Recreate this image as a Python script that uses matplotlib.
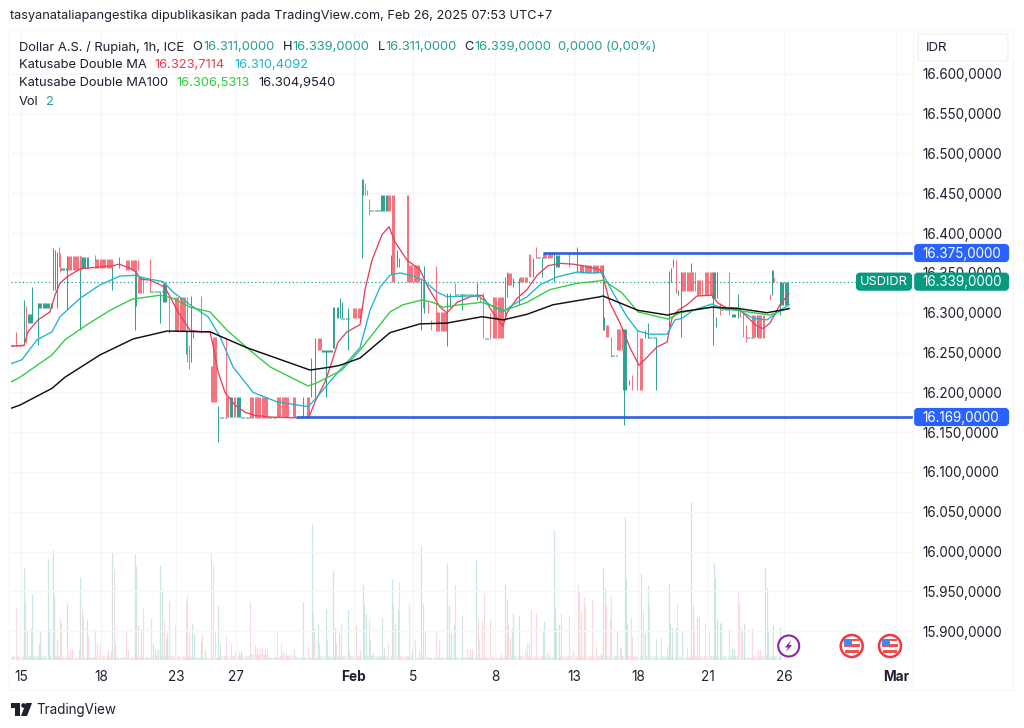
import numpy as np
import matplotlib
matplotlib.use("Agg")
import matplotlib.pyplot as plt
from matplotlib.patches import Circle, FancyBboxPatch, Polygon, Rectangle
from matplotlib.ticker import FuncFormatter

plt.rcParams["font.family"] = ["Inter", "DejaVu Sans"]

# x is the bar position along the chart (the time axis skips closed market hours)
date_pos = [21, 101, 176, 236, 354, 413, 495, 574, 638, 708, 784, 896]
date_labels = ["15", "18", "23", "27", "Feb", "5", "8", "13", "18", "21", "26", "Mar"]
price_ticks = [16600, 16550, 16500, 16450, 16400, 16350, 16300, 16250, 16200, 16150, 16100, 16050, 16000, 15950, 15900]

last_price = 16339
resistance = 16375
support = 16169

# runs of candles: start, stop, high, low
up_start = [24, 28, 32, 38, 38, 53, 55, 57, 61, 67, 80, 82, 112, 119, 135, 136, 150, 160, 163, 186, 191, 193, 193, 218, 220, 230, 237, 241, 268, 303, 311, 315, 322, 326, 333, 337, 340, 342, 341, 348, 362, 363, 370, 381, 391, 397, 399, 421, 424, 447, 450, 455, 462, 477, 485, 505, 507, 513, 519, 533, 537, 542, 554, 556, 577, 603, 604, 611, 623, 624, 629, 645, 648, 648, 656, 656, 669, 671, 673, 678, 681, 691, 712, 713, 716, 720, 732, 738, 746, 757, 772, 773, 775, 780, 780]
up_stop = [24, 32, 32, 38, 52, 53, 55, 57, 67, 67, 80, 88, 112, 119, 135, 136, 163, 160, 167, 186, 191, 193, 212, 218, 226, 233, 241, 250, 277, 303, 311, 315, 333, 326, 335, 339, 340, 342, 350, 348, 362, 363, 381, 387, 391, 397, 399, 421, 424, 447, 450, 478, 462, 477, 490, 505, 507, 513, 519, 533, 545, 542, 554, 560, 577, 603, 604, 617, 627, 624, 629, 645, 648, 655, 656, 666, 669, 671, 673, 678, 681, 691, 717, 713, 716, 730, 736, 738, 755, 757, 772, 773, 780, 789, 780]
up_high = [16316, 16298, 16332, 16312, 16312, 16381, 16379, 16376, 16356, 16371, 16371, 16370, 16357, 16370, 16366, 16354, 16327, 16326, 16337, 16278, 16321, 16277, 16275, 16183, 16169, 16194, 16194, 16169, 16169, 16194, 16243, 16268, 16253, 16253, 16307, 16307, 16318, 16313, 16293, 16306, 16468, 16468, 16429, 16448, 16372, 16379, 16369, 16344, 16359, 16325, 16325, 16324, 16324, 16337, 16268, 16345, 16351, 16344, 16344, 16369, 16370, 16369, 16375, 16372, 16383, 16360, 16295, 16247, 16280, 16280, 16216, 16278, 16287, 16270, 16270, 16270, 16352, 16356, 16367, 16329, 16351, 16362, 16351, 16320, 16295, 16305, 16298, 16324, 16270, 16297, 16354, 16354, 16339, 16339, 16339]
up_low = [16259, 16287, 16287, 16259, 16306, 16329, 16329, 16306, 16354, 16305, 16278, 16356, 16329, 16356, 16278, 16308, 16326, 16287, 16313, 16248, 16238, 16268, 16274, 16138, 16168, 16169, 16169, 16168, 16168, 16169, 16194, 16194, 16251, 16194, 16256, 16293, 16293, 16293, 16292, 16253, 16369, 16448, 16428, 16428, 16349, 16357, 16357, 16278, 16300, 16258, 16307, 16322, 16303, 16316, 16267, 16291, 16320, 16332, 16310, 16345, 16369, 16345, 16339, 16357, 16350, 16278, 16278, 16246, 16203, 16159, 16209, 16268, 16268, 16268, 16203, 16269, 16278, 16339, 16357, 16322, 16270, 16329, 16318, 16259, 16282, 16304, 16295, 16293, 16268, 16270, 16322, 16339, 16338, 16310, 16297]

down_start = [11, 16, 26, 59, 60, 68, 95, 95, 126, 138, 150, 169, 175, 187, 189, 201, 211, 213, 226, 227, 234, 250, 277, 293, 307, 318, 353, 365, 367, 369, 388, 392, 407, 409, 423, 428, 431, 436, 436, 455, 480, 483, 490, 493, 508, 520, 529, 536, 543, 569, 580, 606, 611, 617, 632, 637, 640, 676, 682, 697, 705, 720, 729, 740, 743, 746, 752, 758, 770, 774]
down_stop = [23, 16, 26, 59, 61, 81, 95, 113, 138, 143, 150, 169, 187, 187, 189, 201, 213, 217, 226, 229, 236, 268, 289, 296, 310, 322, 362, 365, 367, 369, 391, 395, 409, 420, 423, 428, 431, 436, 447, 455, 480, 483, 490, 504, 512, 528, 531, 536, 553, 569, 602, 609, 611, 623, 632, 637, 643, 676, 695, 702, 712, 720, 729, 740, 743, 746, 756, 764, 770, 774]
down_high = [16259, 16276, 16308, 16383, 16375, 16371, 16372, 16367, 16366, 16345, 16367, 16322, 16320, 16310, 16259, 16321, 16233, 16270, 16270, 16194, 16194, 16194, 16194, 16194, 16194, 16268, 16306, 16463, 16454, 16443, 16448, 16448, 16448, 16360, 16341, 16313, 16291, 16359, 16301, 16337, 16322, 16325, 16300, 16320, 16350, 16345, 16374, 16383, 16375, 16375, 16360, 16285, 16270, 16280, 16222, 16278, 16268, 16366, 16351, 16341, 16351, 16312, 16351, 16307, 16301, 16285, 16297, 16297, 16324, 16344]
down_low = [16258, 16258, 16262, 16357, 16351, 16354, 16356, 16356, 16354, 16325, 16326, 16275, 16277, 16238, 16229, 16275, 16188, 16188, 16169, 16169, 16169, 16168, 16169, 16169, 16169, 16253, 16293, 16448, 16448, 16423, 16428, 16339, 16339, 16339, 16306, 16300, 16278, 16278, 16277, 16322, 16313, 16268, 16268, 16268, 16335, 16339, 16345, 16369, 16369, 16357, 16350, 16270, 16244, 16253, 16203, 16203, 16203, 16325, 16327, 16322, 16322, 16297, 16297, 16295, 16270, 16263, 16270, 16268, 16316, 16339]

# moving averages
fast_x = [11, 24, 28, 38, 50, 55, 60, 67, 80, 88, 95, 113, 119, 130, 136, 141, 150, 165, 170, 178, 190, 200, 210, 213, 218, 225, 235, 245, 255, 270, 295, 309, 315, 325, 330, 338, 347, 360, 365, 372, 382, 389, 395, 407, 420, 428, 440, 447, 457, 470, 482, 493, 503, 507, 517, 527, 537, 548, 560, 573, 583, 600, 602, 610, 620, 630, 639, 647, 657, 667, 672, 678, 687, 697, 712, 718, 727, 738, 747, 755, 763, 770, 777, 780, 789]
fast_y = [16258, 16259, 16276, 16291, 16301, 16322, 16337, 16345, 16355, 16356, 16357, 16359, 16361, 16356, 16351, 16342, 16341, 16332, 16320, 16301, 16278, 16276, 16276, 16259, 16226, 16200, 16184, 16175, 16171, 16169, 16168, 16169, 16188, 16213, 16231, 16263, 16276, 16285, 16329, 16366, 16398, 16408, 16389, 16366, 16354, 16332, 16307, 16300, 16313, 16320, 16322, 16300, 16283, 16300, 16318, 16329, 16347, 16359, 16362, 16361, 16359, 16354, 16350, 16312, 16287, 16256, 16234, 16244, 16257, 16263, 16293, 16303, 16310, 16321, 16322, 16312, 16306, 16306, 16295, 16285, 16280, 16287, 16303, 16310, 16324]
slow_x = [11, 22, 37, 52, 60, 80, 100, 120, 135, 143, 163, 173, 190, 208, 220, 233, 253, 277, 308, 317, 333, 340, 360, 370, 380, 390, 400, 413, 423, 437, 447, 467, 478, 490, 503, 513, 527, 540, 557, 577, 593, 602, 613, 627, 638, 650, 667, 675, 682, 693, 712, 723, 740, 753, 767, 780, 789]
slow_y = [16236, 16241, 16266, 16276, 16295, 16318, 16335, 16346, 16347, 16344, 16339, 16326, 16310, 16295, 16270, 16232, 16200, 16188, 16182, 16194, 16218, 16228, 16256, 16303, 16332, 16347, 16350, 16346, 16341, 16326, 16320, 16321, 16321, 16310, 16301, 16310, 16320, 16335, 16345, 16351, 16350, 16351, 16325, 16295, 16277, 16273, 16273, 16291, 16293, 16303, 16311, 16305, 16303, 16293, 16291, 16303, 16310]
ma100_fast_x = [11, 20, 52, 65, 87, 110, 132, 160, 173, 190, 210, 227, 247, 270, 308, 317, 342, 360, 390, 403, 422, 433, 443, 460, 482, 505, 527, 550, 577, 600, 603, 622, 638, 668, 680, 712, 737, 770, 789]
ma100_fast_y = [16213, 16219, 16247, 16266, 16285, 16303, 16317, 16322, 16318, 16307, 16301, 16278, 16256, 16232, 16208, 16212, 16228, 16253, 16301, 16310, 16316, 16313, 16307, 16310, 16313, 16303, 16313, 16329, 16337, 16340, 16341, 16325, 16301, 16292, 16300, 16307, 16303, 16297, 16306]
ma100_slow_x = [11, 20, 52, 65, 100, 133, 167, 210, 247, 310, 332, 340, 360, 390, 420, 447, 482, 503, 527, 553, 600, 603, 638, 668, 680, 712, 740, 767, 789]
ma100_slow_y = [16180, 16184, 16205, 16219, 16247, 16267, 16277, 16276, 16256, 16228, 16232, 16234, 16243, 16275, 16286, 16287, 16295, 16291, 16298, 16310, 16320, 16321, 16303, 16297, 16301, 16307, 16305, 16300, 16305]

# volume spikes, arbitrary units
vol_up_x = [24, 31, 32, 39, 40, 48, 49, 53, 54, 57, 67, 80, 87, 112, 115, 135, 136, 141, 153, 155, 158, 160, 162, 166, 167, 192, 194, 201, 205, 218, 220, 241, 303, 312, 318, 326, 333, 335, 339, 348, 363, 364, 366, 370, 373, 382, 384, 392, 398, 412, 421, 423, 447, 449, 451, 454, 462, 476, 505, 507, 512, 513, 519, 543, 544, 554, 555, 556, 559, 601, 603, 605, 617, 625, 626, 627, 641, 645, 648, 656, 669, 670, 672, 676, 682, 691, 714, 715, 717, 720, 721, 732, 734, 744, 765, 767, 768, 773, 780]
vol_up = [93, 31, 66, 17, 28, 101, 31, 110, 64, 21, 57, 83, 41, 108, 17, 106, 94, 31, 17, 11, 11, 95, 71, 21, 27, 37, 27, 19, 11, 54, 17, 9, 58, 136, 36, 51, 89, 33, 26, 50, 76, 56, 46, 21, 7, 42, 12, 81, 50, 11, 115, 56, 97, 54, 27, 36, 45, 100, 77, 61, 31, 47, 44, 29, 39, 130, 52, 32, 36, 7, 92, 72, 30, 143, 82, 36, 87, 27, 75, 21, 77, 37, 32, 32, 29, 158, 97, 82, 41, 37, 37, 12, 11, 37, 93, 72, 29, 36, 33]
vol_down_x = [16, 25, 27, 60, 61, 70, 72, 79, 82, 83, 88, 95, 97, 100, 108, 111, 114, 126, 128, 138, 143, 151, 164, 169, 175, 186, 187, 189, 202, 211, 213, 215, 226, 231, 235, 239, 250, 255, 257, 260, 262, 265, 267, 277, 281, 283, 286, 294, 308, 313, 314, 319, 327, 336, 341, 349, 356, 360, 369, 388, 393, 395, 399, 409, 415, 419, 425, 436, 439, 455, 467, 470, 472, 478, 479, 482, 484, 490, 495, 501, 508, 510, 525, 527, 529, 531, 536, 547, 549, 561, 569, 573, 578, 579, 581, 584, 585, 592, 596, 606, 610, 611, 620, 621, 631, 632, 638, 643, 649, 661, 667, 677, 687, 693, 694, 697, 699, 705, 709, 729, 738, 739, 741, 742, 752, 758, 760]
vol_down = [52, 59, 29, 42, 37, 11, 12, 11, 51, 44, 24, 31, 16, 17, 11, 9, 91, 29, 11, 35, 52, 42, 39, 59, 35, 59, 65, 27, 26, 107, 95, 29, 25, 17, 9, 9, 58, 15, 12, 12, 12, 11, 11, 29, 17, 9, 8, 11, 13, 46, 32, 17, 21, 17, 37, 9, 36, 11, 41, 17, 56, 37, 78, 56, 20, 11, 29, 30, 20, 76, 11, 11, 11, 40, 22, 39, 67, 41, 11, 7, 36, 22, 11, 17, 17, 51, 47, 9, 7, 47, 45, 9, 76, 69, 49, 63, 54, 61, 13, 55, 42, 64, 12, 12, 43, 24, 21, 49, 55, 22, 14, 57, 12, 56, 29, 43, 44, 37, 29, 31, 68, 57, 32, 29, 32, 11, 11]

# quiet stretches of volume
quiet_up_start = [11, 28, 62, 84, 115, 140, 155, 190, 218, 240, 268, 295, 320, 370, 410, 440, 505, 545, 600, 640, 680, 715, 742, 765]
quiet_up_stop = [16, 48, 70, 94, 125, 150, 170, 210, 225, 250, 280, 310, 350, 392, 420, 470, 520, 560, 620, 670, 690, 740, 752, 782]
quiet_up_vol = [4, 4, 3, 3, 3, 3, 4, 3, 4, 4, 3, 3, 4, 4, 3, 3, 4, 3, 4, 4, 3, 4, 3, 4]
quiet_down_start = [16, 48, 70, 94, 125, 150, 170, 210, 225, 250, 280, 310, 350, 392, 420, 470, 520, 560, 620, 670, 690, 752]
quiet_down_stop = [28, 62, 84, 115, 140, 155, 190, 218, 240, 268, 295, 320, 370, 410, 440, 505, 545, 600, 640, 680, 715, 765]
quiet_down_vol = [4, 4, 3, 4, 3, 3, 4, 3, 4, 6, 5, 3, 4, 4, 3, 3, 4, 4, 4, 3, 4, 4]

GREEN = "#2f9e8f"
RED = "#f4707b"
TEAL_TEXT = "#22a08c"
GRID = "#f5f6f8"
INK = "#1c2030"
BAR_STEP = 1.15

fig = plt.figure(figsize=(10.24, 7.28), dpi=100, facecolor="white")

# chart pane, 11..913 px wide, 32..660 px tall
ax = fig.add_axes([11 / 1024, 1 - 660 / 728, 902 / 1024, 628 / 728])
ax.set_xlim(11, 913)
ax.set_ylim(15863.8, 16652.6)
ax.patch.set_alpha(0)
ax.set_zorder(2)

# volume underneath the candles
vol_ax = ax.twinx()
vol_ax.set_ylim(0, 628)
vol_ax.axis("off")
vol_ax.set_zorder(1)
for a, b, v in zip(quiet_up_start, quiet_up_stop, quiet_up_vol):
    vol_ax.vlines(np.arange(a, b, BAR_STEP), 0, v, color="#d8eeeb", lw=0.8)
for a, b, v in zip(quiet_down_start, quiet_down_stop, quiet_down_vol):
    vol_ax.vlines(np.arange(a, b, BAR_STEP), 0, v, color="#fcdfe1", lw=0.8)
vol_ax.vlines(vol_down_x, 0, vol_down, color="#fcd9dc", lw=0.85)
vol_ax.vlines(vol_up_x, 0, vol_up, color="#cbe6e3", lw=0.85)

for s in ax.spines.values():
    s.set_visible(False)
ax.yaxis.tick_right()
ax.set_yticks(price_ticks)
ax.yaxis.set_major_formatter(FuncFormatter(lambda v, p: f"{int(v) // 1000}.{int(v) % 1000:03d},0000"))
ax.set_xticks(date_pos)
ax.set_xticklabels(date_labels)
ax.tick_params(axis="y", length=0, pad=6.5, labelsize=9.7, labelcolor=INK)
ax.tick_params(axis="x", length=0, pad=7.5, labelsize=9.8, labelcolor=INK)
for lab in ax.get_xticklabels():
    if lab.get_text() in ("Feb", "Mar"):
        lab.set_fontweight("bold")
ax.grid(True, color=GRID, lw=1)
ax.set_axisbelow(True)

# candles
for a, b, hi, lo in zip(up_start, up_stop, up_high, up_low):
    ax.vlines(np.arange(a, b + 0.01, BAR_STEP), lo, hi, color=GREEN, lw=0.7, zorder=3)
for a, b, hi, lo in zip(down_start, down_stop, down_high, down_low):
    ax.vlines(np.arange(a, b + 0.01, BAR_STEP), lo, hi, color=RED, lw=0.7, zorder=3)

ax.plot(fast_x, fast_y, color="#e8405a", lw=0.95, zorder=4)
ax.plot(slow_x, slow_y, color="#1fb4c9", lw=0.95, zorder=4)
ax.plot(ma100_fast_x, ma100_fast_y, color="#2ccc3d", lw=0.95, zorder=4)
ax.plot(ma100_slow_x, ma100_slow_y, color="#111111", lw=1.05, zorder=5)

ax.hlines(resistance, 543, 913, color="#2b5fe3", lw=1.9, zorder=6)
ax.hlines(support, 296, 913, color="#2b5fe3", lw=1.9, zorder=6)
ax.hlines(last_price, 11, 856, color=TEAL_TEXT, lw=0.9, linestyles=(0, (1, 2)), zorder=2)

# overlay in pixels for labels and decorations
ov = fig.add_axes([0, 0, 1, 1], zorder=5)
ov.set_xlim(0, 1024)
ov.set_ylim(728, 0)
ov.axis("off")


def price_px(p):
    return 660 - (p - 15863.8) / (16652.6 - 15863.8) * 628


def box(x0, x1, yc, h, color, text, tx=None, size=9.7):
    ov.add_patch(FancyBboxPatch((x0 + 2, yc - h / 2 + 2), x1 - x0 - 4, h - 4, boxstyle="round,pad=0,rounding_size=2",
                                mutation_aspect=1, fc=color, ec=color, lw=3))
    ov.text(tx if tx else (x0 + x1) / 2, yc + 0.5, text, color="white", fontsize=size, ha="left" if tx else "center", va="center")


box(914, 1009, price_px(resistance), 18, "#2962ff", "16.375,0000", 922)
box(914, 1009, price_px(support), 18, "#2962ff", "16.169,0000", 922)
box(856, 912, price_px(last_price), 18, "#089981", "USDIDR", None, 9.2)
box(914, 1009, price_px(last_price), 18, "#089981", "16.339,0000", 922)

# IDR box
ov.add_patch(FancyBboxPatch((918, 34), 90, 27, boxstyle="round,pad=0,rounding_size=3", fc="white", ec="#f0f1f4", lw=1))
ov.text(926, 48, "IDR", fontsize=9.6, color=INK, va="center")

# frame of the chart
ov.plot([8, 1013, 1013, 8, 8], [30, 30, 690, 690, 30], color="#f7f8fa", lw=1)
ov.plot([913, 913], [30, 690], color="#f7f8fa", lw=1)

# header text
ov.text(10, 15.5, "tasyanataliapangestika dipublikasikan pada TradingView.com, Feb 26, 2025 07:53 UTC+7",
        fontsize=9.2, color=INK, va="center")


def header(items, y):
    for x, s, c in items:
        ov.text(x, y, s, fontsize=9.3, color=c, va="center")


header([(19, "Dollar A.S. / Rupiah, 1h, ICE", INK), (192, "O", INK), (203, "16.311,0000", TEAL_TEXT),
        (283, "H", INK), (292, "16.339,0000", TEAL_TEXT), (378, "L", INK), (385, "16.311,0000", TEAL_TEXT),
        (464, "C", INK), (474, "16.339,0000", TEAL_TEXT), (558, "0,0000 (0,00%)", TEAL_TEXT)], 47)
header([(19, "Katusabe Double MA", INK), (154, "16.323,7114", "#ea3f50"), (234, "16.310,4092", "#1fb4c9")], 65)
header([(19, "Katusabe Double MA100", INK), (176, "16.306,5313", "#2ccc3d"), (258, "16.304,9540", INK)], 83)
header([(19, "Vol", INK), (46, "2", TEAL_TEXT)], 102)

# event icons
ov.add_patch(Circle((788.7, 646), 10.5, fc="white", ec="#8e24aa", lw=1.5))
ov.add_patch(Polygon([[791, 640], [785, 647.5], [788, 647.5], [786, 652], [792, 645], [789, 645]], fc="#8e24aa", ec="none"))
for cx in (851.7, 890):
    ov.add_patch(Circle((cx, 646), 11, fc="white", ec="#f23645", lw=1.8))
    ov.add_patch(Rectangle((cx - 8, 644), 16, 2.5, fc="#ef5350", ec="none"))
    ov.add_patch(Rectangle((cx - 7, 650), 14, 3, fc="#ef5350", ec="none"))
    ov.add_patch(Rectangle((cx - 8, 639), 8, 6, fc="#3d8bf0", ec="none"))
    ov.add_patch(Rectangle((cx, 639), 7, 2, fc="#ef5350", ec="none"))

# logo
ov.add_patch(Polygon([[11, 703], [20, 703], [20, 716], [15, 716], [15, 708], [11, 708]], fc=INK, ec="none"))
ov.add_patch(Circle((23.5, 705.5), 2.3, fc=INK, ec="none"))
ov.add_patch(Polygon([[26, 703], [32, 703], [27, 716], [21, 716]], fc=INK, ec="none"))
ov.text(36, 710, "TradingView", fontsize=9.7, color=INK, va="center")

fig.savefig("out.png", dpi=100)
